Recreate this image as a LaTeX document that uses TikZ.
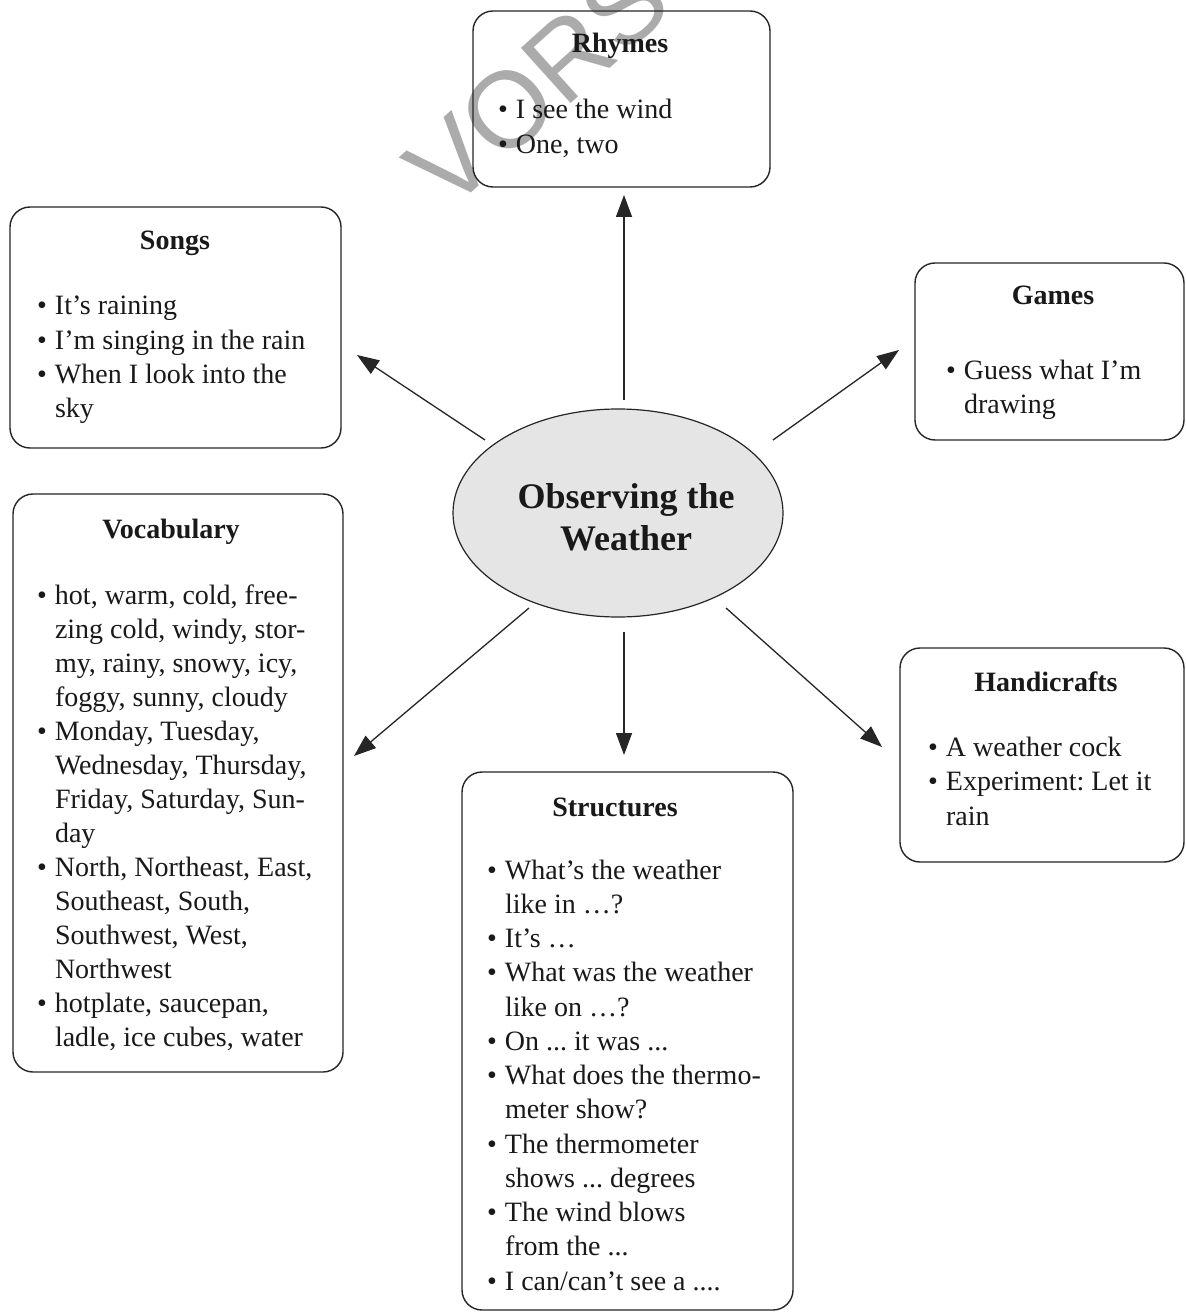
\documentclass[tikz,border=0pt]{standalone}
\usepackage{fontspec}
\setmainfont{Liberation Serif}
\newfontfamily\wmfont{Liberation Sans}
\usetikzlibrary{arrows.meta,shapes.geometric}
\frenchspacing
\begin{document}
\begin{tikzpicture}[x=1pt,y=-1pt,
  box/.style={draw=black!85, line width=1.4pt, rounded corners=20pt, inner sep=0pt},
  hdr/.style={font=\fontsize{28}{34}\selectfont\bfseries, anchor=base, inner sep=0pt, text=black!90},
  lst/.style={font=\fontsize{28}{34}\selectfont, anchor=base west, inner sep=0pt, text=black!90},
  arr/.style={draw=black!85, line width=1.3pt, -{Triangle[length=22pt,width=16pt]}}
]
\useasboundingbox (0,0) rectangle (1185,1313);
\fill[white] (0,0) rectangle (1185,1313);

% watermark
\node[rotate=42, font=\wmfont\fontsize{108}{108}\selectfont, text=black!33, anchor=base west, inner sep=0pt] (wm) at (448,214) {VORSCHAU};

% boxes
\node[box, minimum width=297pt, minimum height=176pt] (rhymes) at (621.5,99) {};
\node[box, minimum width=331pt, minimum height=241pt] (songs) at (175.5,327.5) {};
\node[box, minimum width=269pt, minimum height=177pt] (games) at (1049.5,351.5) {};
\node[box, minimum width=330pt, minimum height=578pt] (vocab) at (178,783) {};
\node[box, minimum width=331pt, minimum height=538pt] (struct) at (627.5,1041) {};
\node[box, minimum width=284pt, minimum height=214pt] (handi) at (1042,755) {};

% centre
\node[ellipse, draw=black!85, line width=1.2pt, fill=black!10, minimum width=330pt, minimum height=208pt, inner sep=0pt] (ell) at (618,513) {};
\node[font=\fontsize{36}{42}\selectfont\bfseries, align=center, inner sep=0pt, text=black!90] (title) at (626,517) {Observing the\\Weather};

% Rhymes
\node[hdr] (rhymesH) at (620,53) {Rhymes};
\node[lst, font=\fontsize{28}{35}\selectfont] (rhymesL) at (498,119) {\begin{tabular}[t]{@{}l@{\hspace{8pt}}l@{}}
\textbullet & I see the wind\\
\textbullet & One, two
\end{tabular}};

% Songs
\node[hdr] (songsH) at (175,250) {Songs};
\node[lst] (songsL) at (37,315) {\begin{tabular}[t]{@{}l@{\hspace{8pt}}l@{}}
\textbullet & It’s raining\\
\textbullet & I’m singing in the rain\\
\textbullet & When I look into the\\
 & sky
\end{tabular}};

% Games
\node[hdr] (gamesH) at (1053,305) {Games};
\node[lst, font=\fontsize{28}{34}\selectfont] (gamesL) at (946,379) {\begin{tabular}[t]{@{}l@{\hspace{8pt}}l@{}}
\textbullet & Guess what I’m\\
 & drawing
\end{tabular}};

% Vocabulary
\node[hdr] (vocabH) at (171,538) {Vocabulary};
\node[lst] (vocabL) at (37,604) {\begin{tabular}[t]{@{}l@{\hspace{8pt}}l@{}}
\textbullet & hot, warm, cold, free-\\
 & zing cold, windy, stor-\\
 & my, rainy, snowy, icy,\\
 & foggy, sunny, cloudy\\
\textbullet & Monday, Tuesday,\\
 & Wednesday, Thursday,\\
 & Friday, Saturday, Sun-\\
 & day\\
\textbullet & North, Northeast, East,\\
 & Southeast, South,\\
 & Southwest, West,\\
 & Northwest\\
\textbullet & hotplate, saucepan,\\
 & ladle, ice cubes, water
\end{tabular}};

% Structures
\node[hdr] (structH) at (615,816) {Structures};
\node[lst, font=\fontsize{28}{34.25}\selectfont] (structL) at (487,879) {\begin{tabular}[t]{@{}l@{\hspace{8pt}}l@{}}
\textbullet & What’s the weather\\
 & like in …?\\
\textbullet & It’s …\\
\textbullet & What was the weather\\
 & like on …?\\
\textbullet & On ... it was ...\\
\textbullet & What does the thermo-\\
 & meter show?\\
\textbullet & The thermometer\\
 & shows ... degrees\\
\textbullet & The wind blows\\
 & from the ...\\
\textbullet & I can/can’t see a ....
\end{tabular}};

% Handicrafts
\node[hdr] (handiH) at (1046,691) {Handicrafts};
\node[lst, font=\fontsize{28}{34.5}\selectfont] (handiL) at (928,756) {\begin{tabular}[t]{@{}l@{\hspace{8pt}}l@{}}
\textbullet & A weather cock\\
\textbullet & Experiment: Let it\\
 & rain
\end{tabular}};

% arrow end points
\coordinate (s1) at (624,400); \coordinate (t1) at (624,195);
\coordinate (s2) at (485,440); \coordinate (t2) at (357,355);
\coordinate (s3) at (773,440); \coordinate (t3) at (899,350);
\coordinate (s4) at (529,608); \coordinate (t4) at (354,756);
\coordinate (s5) at (624,632); \coordinate (t5) at (624,755);
\coordinate (s6) at (726,608); \coordinate (t6) at (882,747);
\draw[arr] (s1) -- (t1);
\draw[arr] (s2) -- (t2);
\draw[arr] (s3) -- (t3);
\draw[arr] (s4) -- (t4);
\draw[arr] (s5) -- (t5);
\draw[arr] (s6) -- (t6);
\end{tikzpicture}
\end{document}
